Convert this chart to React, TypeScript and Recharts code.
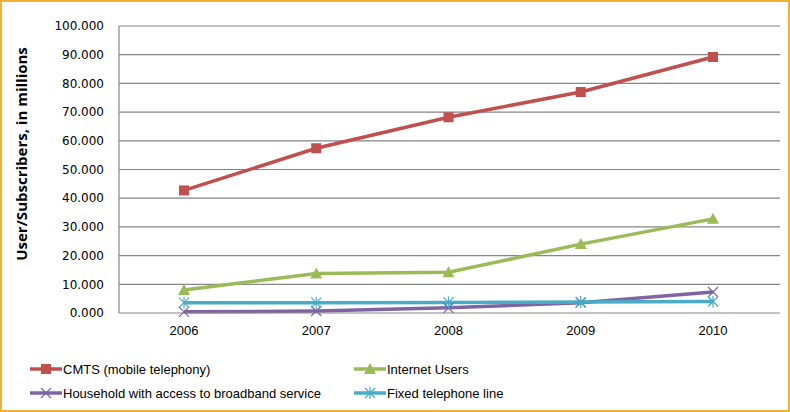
import React from 'react';
import { LineChart, Line, XAxis, YAxis, ReferenceLine, Label } from 'recharts';

const years = ['2006', '2007', '2008', '2009', '2010'];
const cmts = [42.7, 57.4, 68.2, 77.0, 89.2];
const internet = [8.0, 13.8, 14.2, 24.0, 32.8];
const broadband = [0.4, 0.7, 1.8, 3.6, 7.3];
const fixedLine = [3.6, 3.6, 3.7, 3.8, 4.0];
const yTicks = [0, 10, 20, 30, 40, 50, 60, 70, 80, 90, 100];

const data = years.map((y, i) => ({
  year: y,
  cmts: cmts[i],
  internet: internet[i],
  broadband: broadband[i],
  fixed: fixedLine[i],
}));

const RED = '#C0504D';
const GREEN = '#9BBB59';
const PURPLE = '#8064A2';
const CYAN = '#4BACC6';

const SquareDot = (props: any) => {
  const { cx, cy } = props;
  if (cx == null || cy == null) return null;
  return <rect x={cx - 5} y={cy - 5} width={10} height={10} fill={RED} />;
};
const TriDot = (props: any) => {
  const { cx, cy } = props;
  if (cx == null || cy == null) return null;
  return <polygon points={`${cx},${cy - 6} ${cx + 6},${cy + 5} ${cx - 6},${cy + 5}`} fill={GREEN} />;
};
const XDot = (props: any) => {
  const { cx, cy } = props;
  if (cx == null || cy == null) return null;
  return (
    <g stroke={PURPLE} strokeWidth={1.2}>
      <line x1={cx - 5} y1={cy - 5} x2={cx + 5} y2={cy + 5} />
      <line x1={cx - 5} y1={cy + 5} x2={cx + 5} y2={cy - 5} />
    </g>
  );
};
const StarDot = (props: any) => {
  const { cx, cy } = props;
  if (cx == null || cy == null) return null;
  return (
    <g stroke={CYAN} strokeWidth={1.2}>
      <line x1={cx - 5} y1={cy - 5} x2={cx + 5} y2={cy + 5} />
      <line x1={cx - 5} y1={cy + 5} x2={cx + 5} y2={cy - 5} />
      <line x1={cx} y1={cy - 6} x2={cx} y2={cy + 6} />
    </g>
  );
};

const legendItems = [
  { name: 'CMTS (mobile telephony)', color: RED, kind: 'square', x: 30, y: 369 },
  { name: 'Internet Users', color: GREEN, kind: 'tri', x: 354, y: 369 },
  { name: 'Household with access to broadband service', color: PURPLE, kind: 'x', x: 30, y: 393 },
  { name: 'Fixed telephone line', color: CYAN, kind: 'star', x: 354, y: 393 },
];

const LegendContent = () => (
  <svg width={790} height={412} style={{ position: 'absolute', left: 0, top: 0, overflow: 'visible' }}>
    {legendItems.map((it) => {
      const mx = it.x + 16;
      const my = it.y;
      let marker: any = null;
      if (it.kind === 'square') marker = <rect x={mx - 5} y={my - 5} width={10} height={10} fill={it.color} />;
      if (it.kind === 'tri') marker = <polygon points={`${mx},${my - 6} ${mx + 6},${my + 5} ${mx - 6},${my + 5}`} fill={it.color} />;
      if (it.kind === 'x')
        marker = (
          <g stroke={it.color} strokeWidth={1.2}>
            <line x1={mx - 5} y1={my - 5} x2={mx + 5} y2={my + 5} />
            <line x1={mx - 5} y1={my + 5} x2={mx + 5} y2={my - 5} />
          </g>
        );
      if (it.kind === 'star')
        marker = (
          <g stroke={it.color} strokeWidth={1.2}>
            <line x1={mx - 5} y1={my - 5} x2={mx + 5} y2={my + 5} />
            <line x1={mx - 5} y1={my + 5} x2={mx + 5} y2={my - 5} />
            <line x1={mx} y1={my - 6} x2={mx} y2={my + 6} />
          </g>
        );
      return (
        <g key={it.name}>
          <line x1={it.x} y1={my} x2={it.x + 32} y2={my} stroke={it.color} strokeWidth={3.5} />
          {marker}
          <text x={it.x + 33} y={my} dy="0.35em" fontFamily="'Liberation Sans', Arial, sans-serif" fontSize={13} fill="#000">
            {it.name}
          </text>
        </g>
      );
    })}
  </svg>
);

export default function App() {
  return (
    <div
      style={{
        position: 'absolute',
        left: 0,
        top: 0,
        width: 790,
        height: 412,
        background: '#fff',
      }}
    >
      <LineChart
        width={790}
        height={412}
        data={data}
        margin={{ top: 26, right: 10, bottom: 0, left: 0 }}
        style={{ position: 'absolute', left: 0, top: 0 }}
      >
        {yTicks.slice(1).map((t) => (
          <ReferenceLine key={t} y={t} stroke="#868686" strokeWidth={1.2} ifOverflow="visible" />
        ))}
        <XAxis
          dataKey="year"
          tickLine={false}
          tickSize={0}
          tickMargin={13}
          padding={{ left: 65, right: 67 }}
          axisLine={{ stroke: '#868686', strokeWidth: 1.2 }}
          tick={{ fontFamily: "'Liberation Sans', Arial, sans-serif", fontSize: 13, fill: '#000' }}
          height={99}
        />
        <YAxis
          width={119}
          domain={[0, 100]}
          ticks={yTicks}
          interval={0}
          tickLine={false}
          tickSize={0}
          tickMargin={15}
          axisLine={{ stroke: '#868686', strokeWidth: 1.2 }}
          tickFormatter={(v: number) => v.toFixed(3)}
          tick={{ fontFamily: "'DejaVu Sans', Verdana, sans-serif", fontSize: 12, fill: '#000' }}
        >
          <Label
            content={() => (
              <text
                x={21}
                y={154}
                transform="rotate(-90 21 154)"
                textAnchor="middle"
                dominantBaseline="central"
                fontFamily="'Open Sans', 'Liberation Sans', Arial, sans-serif"
                fontWeight="bold"
                fontSize={15}
                fill="#000"
              >
                User/Subscribers, in millions
              </text>
            )}
          />
        </YAxis>
        <Line dataKey="cmts" name="CMTS (mobile telephony)" stroke={RED} strokeWidth={3.5} dot={<SquareDot />} activeDot={false} isAnimationActive={false} />
        <Line dataKey="internet" name="Internet Users" stroke={GREEN} strokeWidth={3.5} dot={<TriDot />} activeDot={false} isAnimationActive={false} />
        <Line dataKey="broadband" name="Household with access to broadband service" stroke={PURPLE} strokeWidth={3.5} dot={<XDot />} activeDot={false} isAnimationActive={false} />
        <Line dataKey="fixed" name="Fixed telephone line" stroke={CYAN} strokeWidth={3.5} dot={<StarDot />} activeDot={false} isAnimationActive={false} />
      </LineChart>
      <LegendContent />
      <div
        style={{
          position: 'absolute',
          left: 0,
          top: 0,
          width: 790,
          height: 412,
          boxSizing: 'border-box',
          border: '2px solid #F2B134',
          pointerEvents: 'none',
        }}
      />
    </div>
  );
}
